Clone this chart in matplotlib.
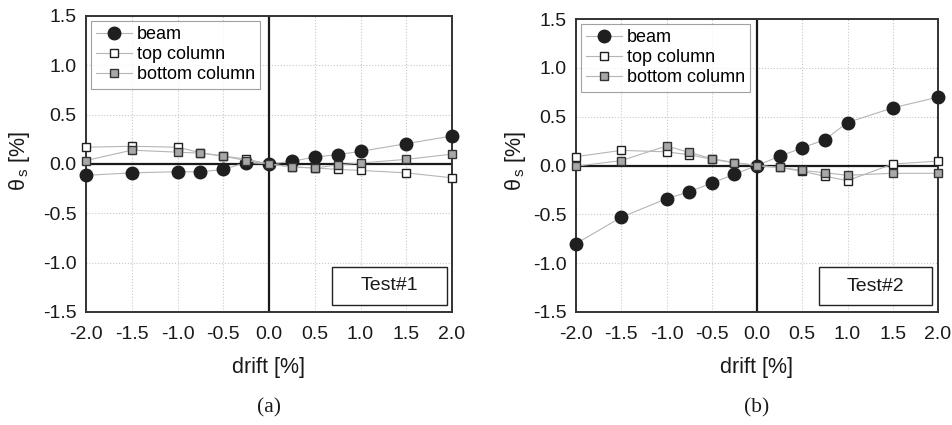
import numpy as np
import matplotlib.pyplot as plt
from matplotlib.patches import Rectangle

plt.rcParams['font.family'] = ['Liberation Sans', 'DejaVu Sans']
plt.rcParams['mathtext.fontset'] = 'custom'
plt.rcParams['mathtext.rm'] = 'Liberation Sans'
plt.rcParams['mathtext.it'] = 'Liberation Sans'

# drift values [%]
drift = [-2.0, -1.5, -1.0, -0.75, -0.5, -0.25, 0.0, 0.25, 0.5, 0.75, 1.0, 1.5, 2.0]

# Test#1
beam_1 = [-0.115, -0.09, -0.078, -0.08, -0.055, 0.015, 0.0, 0.027, 0.07, 0.095, 0.128, 0.206, 0.284]
top_1 = [0.17, 0.18, 0.17, 0.115, 0.08, 0.05, 0.0, -0.03, -0.04, -0.055, -0.065, -0.09, -0.14]
bot_1 = [0.035, 0.14, 0.12, 0.11, 0.08, 0.035, 0.0, -0.03, -0.04, -0.01, 0.01, 0.047, 0.10]

# Test#2
beam_2 = [-0.80, -0.53, -0.34, -0.27, -0.18, -0.09, 0.0, 0.095, 0.18, 0.265, 0.44, 0.59, 0.70]
top_2 = [0.09, 0.155, 0.14, 0.11, 0.065, 0.027, 0.0, -0.02, -0.06, -0.11, -0.155, 0.015, 0.045]
bot_2 = [-0.007, 0.05, 0.20, 0.135, 0.07, 0.03, 0.0, -0.02, -0.05, -0.075, -0.10, -0.08, -0.08]

tests = ['Test#1', 'Test#2']
panel_labels = ['(a)', '(b)']

fig = plt.figure(figsize=(9.52, 4.25), dpi=100, facecolor='w')
ax1 = fig.add_axes([86/952, 1-312/425, 366/952, 296/425])
ax2 = fig.add_axes([576/952, 1-312/425, 362/952, 293/425])

line_kw = dict(color='#b5b5b5', lw=0.8)

def draw_panel(ax, beam, top, bot, name, box_x):
    ax.axhline(0, color='#1a1a1a', lw=1.6, zorder=2)
    ax.axvline(0, color='#1a1a1a', lw=1.6, zorder=2)
    ax.plot(drift, beam, marker='o', ms=9, mfc='#1f1f1f', mec='#1f1f1f',
            label='beam', zorder=4, clip_on=False, **line_kw)
    ax.plot(drift, top, marker='s', ms=5.5, mfc='white', mec='#1f1f1f', mew=1.0,
            label='top column', zorder=4, clip_on=False, **line_kw)
    ax.plot(drift, bot, marker='s', ms=5.5, mfc='#a8a8a8', mec='#333333', mew=1.0,
            label='bottom column', zorder=4, clip_on=False, **line_kw)
    ax.set_xlim(-2, 2)
    ax.set_ylim(-1.5, 1.5)
    ax.set_xticks(np.arange(-2, 2.01, 0.5))
    ax.set_yticks(np.arange(-1.5, 1.51, 0.5))
    ax.set_xticklabels(['%.1f' % v for v in np.arange(-2, 2.01, 0.5)])
    ax.set_yticklabels(['%.1f' % v for v in np.arange(-1.5, 1.51, 0.5)])
    ax.tick_params(length=0, labelsize=14, colors='#1a1a1a')
    ax.tick_params(axis='y', pad=7)
    ax.tick_params(axis='x', pad=10)
    ax.grid(True, ls=':', color='#c8c8c8', lw=0.8, zorder=0)
    ax.set_axisbelow(True)
    for s in ax.spines.values():
        s.set_color('#333333')
        s.set_linewidth(1.4)
    leg = ax.legend(loc='upper left', fontsize=13, frameon=True, fancybox=False,
                    borderaxespad=0.25, handlelength=2.0, handletextpad=0.25,
                    labelspacing=0.18, borderpad=0.3)
    leg.get_frame().set_edgecolor('#8a8a8a')
    leg.get_frame().set_linewidth(0.8)
    ax.add_patch(Rectangle((box_x, 0.024), 0.313, 0.128, transform=ax.transAxes,
                           fc='white', ec='#222222', lw=1.0, zorder=5))
    ax.text(box_x + 0.156, 0.088, name, transform=ax.transAxes, ha='center',
            va='center', fontsize=14, color='#1a1a1a', zorder=6)

draw_panel(ax1, beam_1, top_1, bot_1, tests[0], 0.672)
draw_panel(ax2, beam_2, top_2, bot_2, tests[1], 0.671)

for xc, yl_x, pl in [(269, 19, panel_labels[0]), (757, 516, panel_labels[1])]:
    fig.text(xc/952, 1-368/425, 'drift [%]', ha='center', va='center',
             fontsize=15.5, color='#1a1a1a')
    fig.text(xc/952, 1-408/425, pl, ha='center', va='center', fontsize=15.5,
             family=['Liberation Serif', 'DejaVu Serif'], color='#1a1a1a')
    fig.text(yl_x/952, 1-161/425, r'$\theta_{\,\mathrm{s}}$ [%]', ha='center',
             va='center', rotation=90, fontsize=15.5, color='#1a1a1a')

fig.savefig('out.png', dpi=100)
